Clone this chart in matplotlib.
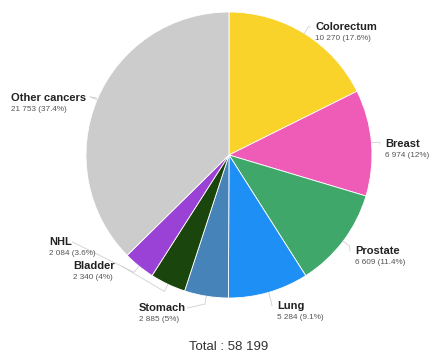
import numpy as np
import matplotlib.pyplot as plt

sites = ["Colorectum", "Breast", "Prostate", "Lung", "Stomach", "Bladder", "NHL", "Other cancers"]
cases = [10270, 6974, 6609, 5284, 2885, 2340, 2084, 21753]
pcts = ["17.6%", "12%", "11.4%", "9.1%", "5%", "4%", "3.6%", "37.4%"]
colors = ["#fad32a", "#ef5cb8", "#3fa76a", "#1e8ff5", "#4683b8", "#1a450c", "#9b42d6", "#cccccc"]

# label text positions in pixels (top-left of the bold name)
label_pos = [(315, 22), (385, 139), (355, 246), (277, 301), (139, 303), (73, 261), (49, 237), (11, 93)]


def main():
    W, H = 430, 356
    fig = plt.figure(figsize=(W / 100, H / 100), dpi=100)
    ax = fig.add_axes([0, 0, 1, 1])

    cx, cy, r = 229, H - 155, 143
    wedges, _ = ax.pie(cases, colors=colors, startangle=90, counterclock=False,
                       center=(cx, cy), radius=r, frame=True,
                       wedgeprops=dict(edgecolor="white", linewidth=0.6))
    ax.set_xlim(0, W)
    ax.set_ylim(0, H)
    ax.set_aspect("auto")
    ax.axis("off")

    total = sum(cases)
    for w, name, n, p, (lx, ly) in zip(wedges, sites, cases, pcts, label_pos):
        mid = np.deg2rad((w.theta1 + w.theta2) / 2)
        sx, sy = cx + r * np.cos(mid), cy + r * np.sin(mid)
        ex, ey = cx + (r + 8) * np.cos(mid), cy + (r + 8) * np.sin(mid)
        ty = H - ly
        if lx > cx:
            tx = lx - 5
        else:
            tx = lx + len(name) * 6.2 + 5
        ax.plot([sx, ex, tx], [sy, ey, ty - 5], color="#d0d0d0", lw=0.6)
        ax.text(lx, ty, name, fontsize=8, fontweight="bold", family="Liberation Sans",
                color="#222222", va="top", ha="left")
        num = f"{n:,}".replace(",", " ")
        ax.text(lx, ty - 13, f"{num} ({p})", fontsize=5.9, family="Liberation Sans",
                color="#555555", va="top", ha="left")

    ax.text(229, H - 347, "Total : " + f"{total:,}".replace(",", " "), fontsize=9.5,
            family="Liberation Sans", color="#333333", ha="center", va="center")

    fig.savefig("out.png", dpi=100)


if __name__ == "__main__":
    main()
